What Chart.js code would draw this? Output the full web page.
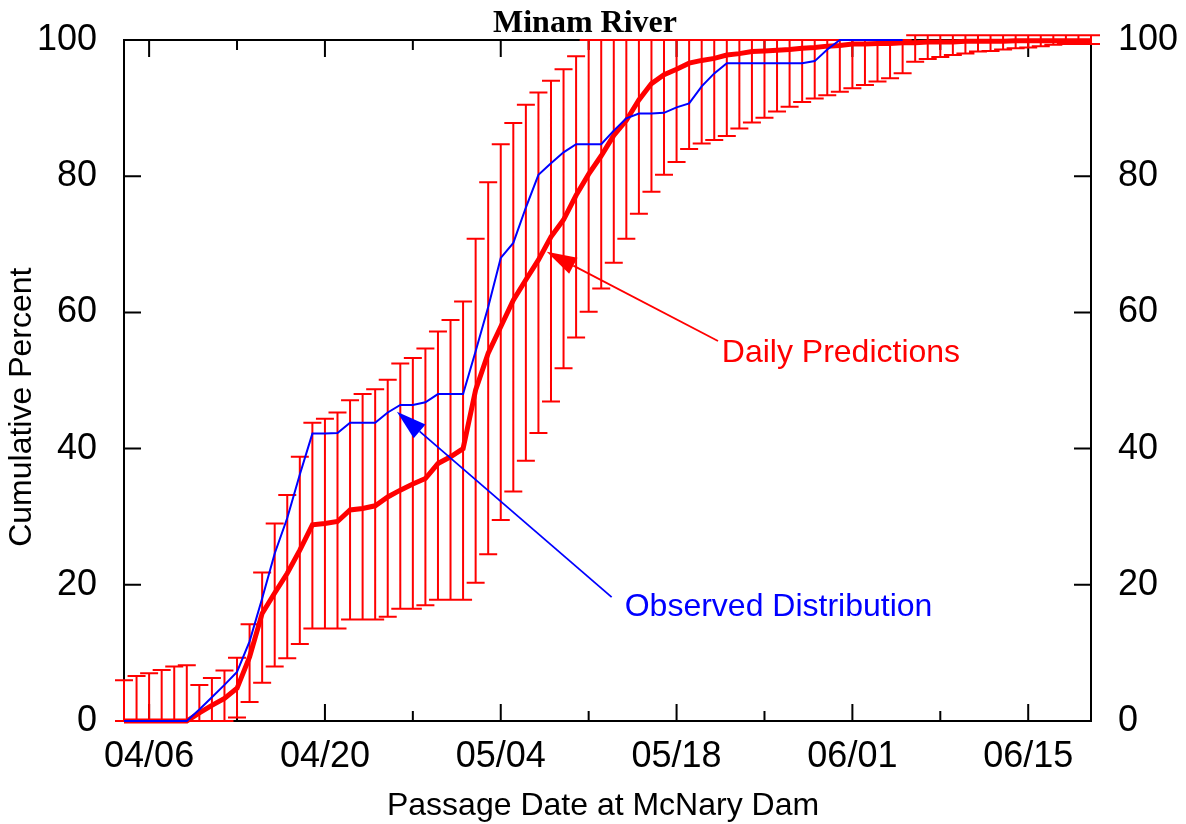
<!DOCTYPE html>
<html><head><meta charset="utf-8">
<script src="https://cdn.jsdelivr.net/npm/chart.js@4.4.1/dist/chart.umd.min.js"></script>
<style>html,body{margin:0;padding:0;background:#fff;}#wrap{width:1186px;height:824px;}</style>
</head><body><div id="wrap"><canvas id="c" width="1186" height="824"></canvas></div>
<script>
// day offsets are counted from 04/06; first value is 04/04
const startDay = -2;
const predicted = [0,0,0,0,0,0,1.2,2.3,3.3,4.8,9.4,15.8,18.8,21.7,25.1,28.8,29.0,29.3,31.0,31.2,31.6,32.9,33.9,34.8,35.6,37.8,38.8,40.0,48.6,54.0,57.9,61.8,64.8,67.7,71.1,73.6,77.2,80.3,83.0,86.0,88.2,91.2,93.6,94.9,95.7,96.6,97.0,97.3,97.8,98.0,98.3,98.4,98.5,98.6,98.8,98.9,99.1,99.2,99.4,99.4,99.5,99.5,99.6,99.6,99.7,99.7,99.7,99.8,99.8,99.8,99.8,99.9,99.9,99.9,99.9,99.9,99.9,99.9];
const lower = [0,0,0,0,0,0,0,0,0,0.5,2.8,5.6,8.0,9.2,11.3,13.6,13.6,13.6,14.9,14.9,14.9,15.3,16.5,16.5,17.0,17.8,17.8,17.8,20.3,24.5,29.5,33.7,38.2,42.3,46.9,51.8,56.3,60.1,63.5,67.3,70.8,74.5,77.7,80.2,82.1,84.0,84.8,85.3,85.9,87.0,87.9,88.6,89.5,90.2,90.9,91.4,91.9,92.4,92.9,93.4,93.9,94.4,95.1,96.8,97.2,97.5,97.8,98.0,98.3,98.4,98.6,98.8,98.9,99.1,99.3,99.4,99.4,99.4];
const upper = [6.0,6.6,7.0,7.5,8.0,8.2,5.3,6.3,7.4,9.3,14.2,21.8,29.0,33.2,38.8,43.8,44.4,45.3,47.1,48.0,48.7,50.1,52.5,53.3,54.7,57.2,58.9,61.6,70.8,79.1,84.7,87.8,90.5,92.3,94.0,95.7,97.6,100,100,100,100,100,100,100,100,100,100,100,100,100,100,100,100,100,100,100,100,100,100,100,100,100,100,100.7,100.7,100.7,100.7,100.7,100.7,100.7,100.7,100.7,100.7,100.7,100.7,100.7,100.7,100.7];
const observed = [0,0,0,0,0,0,1.7,3.5,5.3,7.2,11.7,18.0,24.6,29.8,36.2,42.2,42.2,42.3,43.8,43.8,43.8,45.3,46.4,46.4,46.8,48.0,48.0,48.0,54.3,60.8,68.0,70.2,75.4,80.2,81.9,83.5,84.7,84.7,84.7,86.7,88.5,89.2,89.2,89.3,90.1,90.7,93.2,95.1,96.6,96.6,96.6,96.6,96.6,96.6,96.6,96.9,98.6,100,100,100,100,100,100];
const tickDays = [0,14,28,42,56,70];
const tickLabels = ['04/06','04/20','05/04','05/18','06/01','06/15'];
const minorTickDays = [7,21,35,49,63];
const xMin = -2, xMax = 75;
const yTicks = [0,20,40,60,80,100];
// annotations: [label, tipDay, tipValue, tailDay, tailValue, textDay, textValue, colour]
const notePred = ['Daily Predictions', 31.66, 68.9, 45.3, 55.8, 45.6, 54.0, '#ff0000'];
const noteObs = ['Observed Distribution', 19.73, 45.4, 36.83, 18.2, 37.87, 16.7, '#0000ff'];

const SANS = '"Liberation Sans", Arial, Helvetica, sans-serif';

const toXY = arr => arr.map((v, i) => ({x: startDay + i, y: v}));
const noPad = s => { s.paddingTop = 0; s.paddingBottom = 0; };

const decor = {
  id: 'decor',
  beforeDatasetsDraw(chart) {
    const {ctx, chartArea: a, scales} = chart;
    const xs = scales.x, ys = scales.y;
    ctx.save();
    ctx.strokeStyle = '#000';
    ctx.lineWidth = 2;
    ctx.strokeRect(a.left, a.top, a.right - a.left, a.bottom - a.top);
    ctx.beginPath();
    tickDays.forEach(d => {
      const x = xs.getPixelForValue(d);
      ctx.moveTo(x, a.bottom); ctx.lineTo(x, a.bottom - 17);
      ctx.moveTo(x, a.top); ctx.lineTo(x, a.top + 17);
    });
    minorTickDays.forEach(d => {
      const x = xs.getPixelForValue(d);
      ctx.moveTo(x, a.bottom); ctx.lineTo(x, a.bottom - 10);
      ctx.moveTo(x, a.top); ctx.lineTo(x, a.top + 10);
    });
    yTicks.forEach(v => {
      const y = ys.getPixelForValue(v);
      ctx.moveTo(a.left, y); ctx.lineTo(a.left + 17, y);
      ctx.moveTo(a.right, y); ctx.lineTo(a.right - 17, y);
    });
    ctx.stroke();
    ctx.strokeStyle = '#ff0000';
    ctx.lineWidth = 2;
    ctx.beginPath();
    for (let i = 0; i < upper.length; i++) {
      const x = xs.getPixelForValue(startDay + i);
      const yl = ys.getPixelForValue(lower[i]);
      const yu = ys.getPixelForValue(upper[i]);
      ctx.moveTo(x, yl); ctx.lineTo(x, yu);
      ctx.moveTo(x - 9, yl); ctx.lineTo(x + 9, yl);
      ctx.moveTo(x - 9, yu); ctx.lineTo(x + 9, yu);
    }
    ctx.stroke();
    ctx.restore();
  },
  afterDatasetsDraw(chart) {
    const {ctx, scales} = chart;
    const xs = scales.x, ys = scales.y;
    ctx.save();
    [notePred, noteObs].forEach(n => {
      const [text, td, tv, ld, lv, xd, xv, col] = n;
      const tx = xs.getPixelForValue(td), ty = ys.getPixelForValue(tv);
      const lx = xs.getPixelForValue(ld), ly = ys.getPixelForValue(lv);
      const ang = Math.atan2(ty - ly, tx - lx);
      const L = 30, W = 9;
      const bx = tx - L * Math.cos(ang), by = ty - L * Math.sin(ang);
      ctx.strokeStyle = col; ctx.fillStyle = col; ctx.lineWidth = 1.8;
      ctx.beginPath(); ctx.moveTo(lx, ly); ctx.lineTo(bx, by); ctx.stroke();
      ctx.beginPath();
      ctx.moveTo(tx, ty);
      ctx.lineTo(bx + W * Math.sin(ang), by - W * Math.cos(ang));
      ctx.lineTo(bx - W * Math.sin(ang), by + W * Math.cos(ang));
      ctx.closePath(); ctx.fill();
      ctx.font = '32px ' + SANS;
      ctx.textAlign = 'left'; ctx.textBaseline = 'middle';
      ctx.fillText(text, xs.getPixelForValue(xd), ys.getPixelForValue(xv));
    });
    ctx.restore();
  }
};

new Chart(document.getElementById('c'), {
  type: 'line',
  data: {
    datasets: [
      {label: 'Observed Distribution', data: toXY(observed), borderColor: '#0000ff', borderWidth: 2, pointRadius: 0, pointHoverRadius: 0, fill: false, tension: 0, clip: false},
      {label: 'Daily Predictions', data: toXY(predicted), borderColor: '#ff0000', borderWidth: 5, pointRadius: 0, pointHoverRadius: 0, fill: false, tension: 0, clip: false}
    ]
  },
  options: {
    responsive: false,
    animation: false,
    devicePixelRatio: 1,
    events: [],
    layout: {padding: 0, autoPadding: false},
    plugins: {
      legend: {display: false},
      tooltip: {enabled: false},
      title: {display: true, text: 'Minam River  ', color: '#000',
        font: {family: '"Liberation Serif", "Times New Roman", serif', size: 32, weight: 'bold', lineHeight: 1},
        padding: {top: 8, bottom: 0}}
    },
    scales: {
      x: {
        type: 'linear', position: 'bottom', min: xMin, max: xMax,
        grid: {display: false, drawTicks: false}, border: {display: false},
        afterBuildTicks: s => { s.ticks = tickDays.map(v => ({value: v})); },
        afterFit: s => { s.height = 103; s.paddingLeft = 0; s.paddingRight = 0; },
        ticks: {color: '#000', font: {family: SANS, size: 36}, padding: 14, autoSkip: false, maxRotation: 0,
          callback: v => { const k = tickDays.indexOf(v); return k >= 0 ? tickLabels[k] : ''; }},
        title: {display: true, text: 'Passage Date at McNary Dam ', color: '#000',
          font: {family: SANS, size: 32, lineHeight: 1}, padding: {top: 0, bottom: 2}}
      },
      y: {
        position: 'left', min: 0, max: 100,
        grid: {display: false, drawTicks: false}, border: {display: false},
        afterBuildTicks: s => { s.ticks = yTicks.map(v => ({value: v})); },
        afterFit: s => { s.width = 124; noPad(s); },
        ticks: {color: '#000', font: {family: SANS, size: 36}, padding: 27},
        title: {display: true, text: 'Cumulative Percent      ', color: '#000',
          font: {family: SANS, size: 32, lineHeight: 1.2}, padding: {top: 3, bottom: 0}}
      },
      y2: {
        position: 'right', min: 0, max: 100,
        grid: {display: false, drawTicks: false}, border: {display: false},
        afterBuildTicks: s => { s.ticks = yTicks.map(v => ({value: v})); },
        afterFit: s => { s.width = 95; noPad(s); },
        ticks: {color: '#000', font: {family: SANS, size: 36}, padding: 27}
      }
    }
  },
  plugins: [decor]
});
</script>
</body></html>
